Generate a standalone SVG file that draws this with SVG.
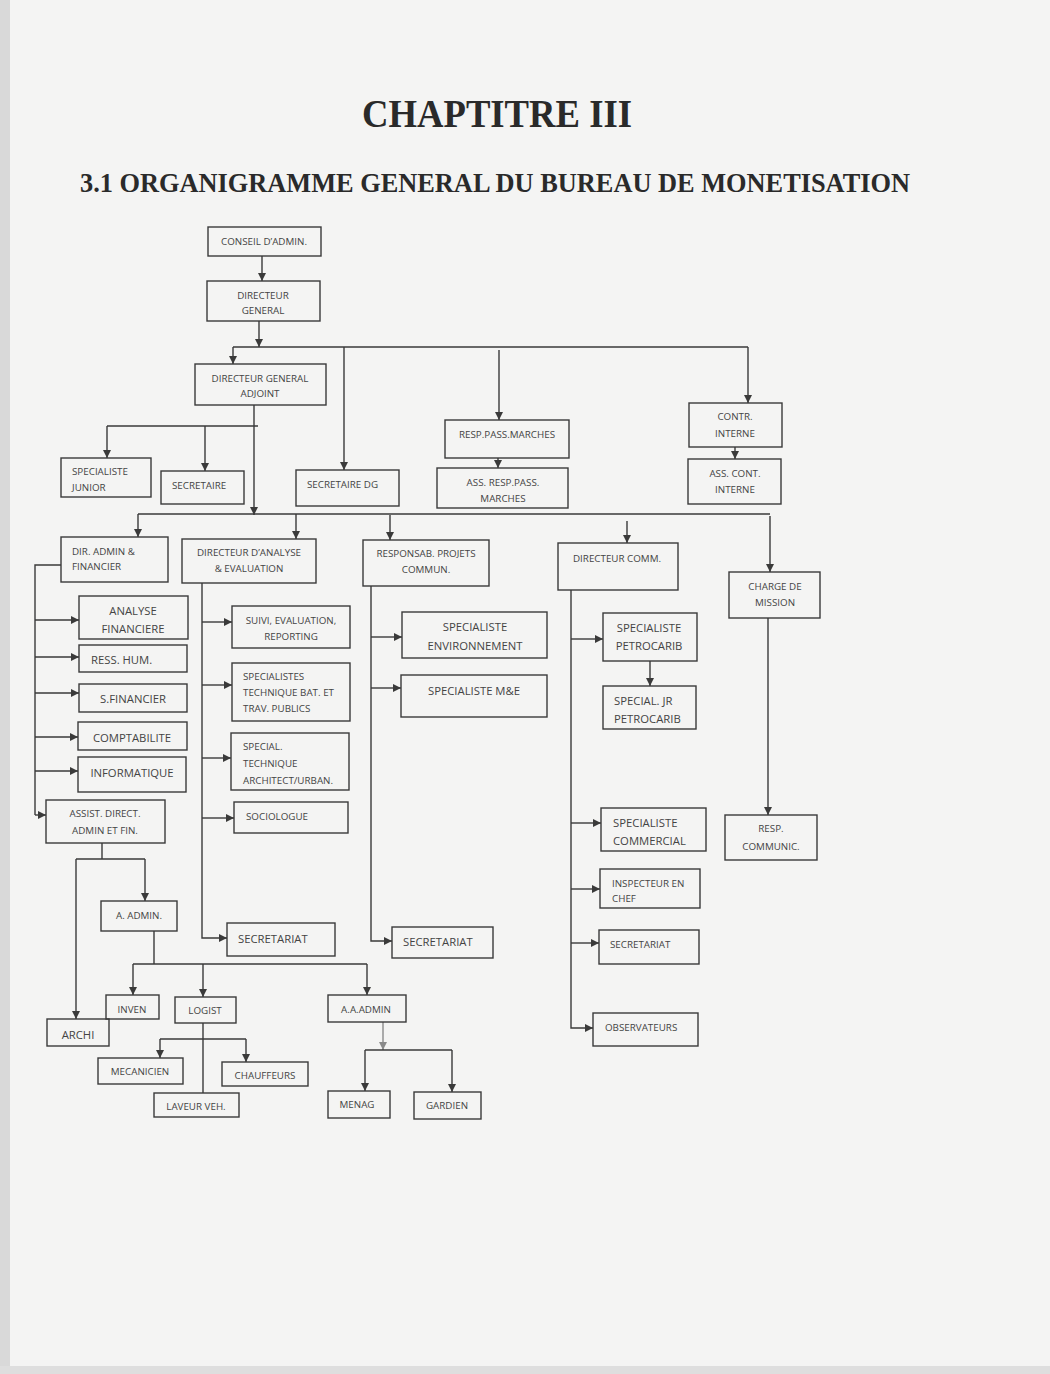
<svg xmlns="http://www.w3.org/2000/svg" width="1050" height="1374" viewBox="0 0 1050 1374">
<defs>
<marker id="ah" viewBox="0 0 10 10" refX="10" refY="5" markerWidth="8" markerHeight="8" markerUnits="userSpaceOnUse" orient="auto"><path d="M0,0 L10,5 L0,10 z" fill="#3a3a3a"/></marker>
<marker id="ahg" viewBox="0 0 10 10" refX="10" refY="5" markerWidth="8" markerHeight="8" markerUnits="userSpaceOnUse" orient="auto"><path d="M0,0 L10,5 L0,10 z" fill="#8a8a8a"/></marker>
<style>
.n rect{fill:none;stroke:#3a3a3a;stroke-width:1.4}
.n text{font-family:"Open Sans","Liberation Sans",sans-serif;font-size:9.8px;fill:#444;dominant-baseline:central}
.c{text-anchor:middle}
.l{text-anchor:start}
.b text{font-size:11.3px}
#connectors path{fill:none;stroke:#3a3a3a;stroke-width:1.4}
#connectors .a{marker-end:url(#ah)}
#connectors .g{stroke:#8a8a8a;marker-end:url(#ahg)}
.t{font-family:"Liberation Serif","Times New Roman",serif;font-weight:bold;fill:#2a2a2a}
</style>
</defs>
<rect x="0" y="0" width="1050" height="1374" fill="#f4f4f3"/>
<rect x="0" y="0" width="10" height="1374" fill="#d9d9d9"/>
<rect x="0" y="1366" width="1050" height="8" fill="#dedede"/>
<text class="t" x="497" y="127" font-size="40" text-anchor="middle" textLength="270" lengthAdjust="spacingAndGlyphs">CHAPTITRE III</text>
<text class="t" x="80" y="192" font-size="27" textLength="830" lengthAdjust="spacingAndGlyphs">3.1  ORGANIGRAMME GENERAL DU BUREAU DE MONETISATION</text>

<g id="connectors">
<path class="a" d="M262,256 V281"/>
<path class="a" d="M259,321 V347"/>
<path d="M233,347 H748"/>
<path class="a" d="M233,347 V364"/>
<path class="a" d="M344,347 V470"/>
<path class="a" d="M499,350 V420"/>
<path class="a" d="M748,347 V403"/>
<path class="a" d="M498,458 V468"/>
<path class="a" d="M735,447 V459"/>
<path class="a" d="M254,405 V515"/>
<path d="M107,426 H258"/>
<path class="a" d="M107,426 V458"/>
<path class="a" d="M205,426 V471"/>
<path d="M138,514 H770"/>
<path class="a" d="M138,514 V537"/>
<path class="a" d="M296,514 V539"/>
<path class="a" d="M390,515 V540"/>
<path class="a" d="M627,521 V543"/>
<path class="a" d="M770,516 V572"/>
<path d="M61,565 H35 V815"/>
<path class="a" d="M35,620 H79"/>
<path class="a" d="M35,657 H79"/>
<path class="a" d="M35,693 H79"/>
<path class="a" d="M35,737 H78"/>
<path class="a" d="M35,771 H78"/>
<path class="a" d="M35,815 H46"/>
<path class="a" d="M202,583 V938 H227"/>
<path class="a" d="M202,622 H232"/>
<path class="a" d="M202,685 H232"/>
<path class="a" d="M202,758 H231"/>
<path class="a" d="M202,818 H234"/>
<path class="a" d="M371,586 V941 H392"/>
<path class="a" d="M371,637 H402"/>
<path class="a" d="M371,688 H401"/>
<path class="a" d="M571,590 V1028 H593"/>
<path class="a" d="M571,639 H603"/>
<path class="a" d="M650,661 V686"/>
<path class="a" d="M571,823 H601"/>
<path class="a" d="M571,889 H600"/>
<path class="a" d="M571,943 H599"/>
<path class="a" d="M768,618 V815"/>
<path d="M102,843 V859"/>
<path d="M76,859 H145"/>
<path class="a" d="M145,859 V901"/>
<path class="a" d="M76,859 V1019"/>
<path d="M154,931 V964"/>
<path d="M133,964 H367"/>
<path class="a" d="M133,964 V995"/>
<path class="a" d="M203,964 V997"/>
<path class="a" d="M367,964 V995"/>
<path d="M203,1023 V1093"/>
<path d="M160,1039 H246"/>
<path class="a" d="M160,1039 V1058"/>
<path class="a" d="M246,1039 V1062"/>
<path class="g" d="M383,1022 V1050"/>
<path d="M365,1050 H452"/>
<path class="a" d="M365,1050 V1091"/>
<path class="a" d="M452,1050 V1092"/>
</g>

<g id="conseil" class="n"><rect x="208" y="227" width="113" height="29"/><text class="c" x="264" y="241">CONSEIL D’ADMIN.</text></g>
<g id="dg" class="n"><rect x="207" y="281" width="113" height="40"/><text class="c" x="263" y="295">DIRECTEUR</text><text class="c" x="263" y="310">GENERAL</text></g>
<g id="dga" class="n"><rect x="195" y="364" width="131" height="41"/><text class="c" x="260" y="378">DIRECTEUR GENERAL</text><text class="c" x="260" y="393">ADJOINT</text></g>
<g id="spec-junior" class="n"><rect x="61" y="458" width="90" height="39"/><text class="l" x="72" y="471">SPECIALISTE</text><text class="l" x="72" y="487">JUNIOR</text></g>
<g id="secretaire" class="n"><rect x="161" y="471" width="83" height="33"/><text class="l" x="172" y="485">SECRETAIRE</text></g>
<g id="secretaire-dg" class="n"><rect x="296" y="470" width="103" height="36"/><text class="l" x="307" y="484">SECRETAIRE DG</text></g>
<g id="resp-pass" class="n"><rect x="445" y="420" width="124" height="38"/><text class="c" x="507" y="434">RESP.PASS.MARCHES</text></g>
<g id="ass-resp-pass" class="n"><rect x="437" y="468" width="131" height="40"/><text class="c" x="503" y="482">ASS. RESP.PASS.</text><text class="c" x="503" y="498">MARCHES</text></g>
<g id="contr-interne" class="n"><rect x="689" y="403" width="93" height="44"/><text class="c" x="735" y="416">CONTR.</text><text class="c" x="735" y="433">INTERNE</text></g>
<g id="ass-cont-interne" class="n"><rect x="688" y="459" width="93" height="45"/><text class="c" x="735" y="473">ASS. CONT.</text><text class="c" x="735" y="489">INTERNE</text></g>

<g id="dir-admin" class="n"><rect x="61" y="537" width="107" height="45"/><text class="l" x="72" y="551">DIR. ADMIN &amp;</text><text class="l" x="72" y="566">FINANCIER</text></g>
<g id="dir-analyse" class="n"><rect x="182" y="539" width="134" height="44"/><text class="c" x="249" y="552">DIRECTEUR D’ANALYSE</text><text class="c" x="249" y="568">&amp; EVALUATION</text></g>
<g id="resp-projets" class="n"><rect x="363" y="540" width="126" height="46"/><text class="c" x="426" y="553">RESPONSAB. PROJETS</text><text class="c" x="426" y="569">COMMUN.</text></g>
<g id="dir-comm" class="n"><rect x="558" y="543" width="120" height="47"/><text class="l" x="573" y="558">DIRECTEUR COMM.</text></g>
<g id="charge-mission" class="n"><rect x="729" y="572" width="91" height="46"/><text class="c" x="775" y="586">CHARGE DE</text><text class="c" x="775" y="602">MISSION</text></g>

<g id="analyse-fin" class="n b"><rect x="79" y="596" width="109" height="43"/><text class="c" x="133" y="610">ANALYSE</text><text class="c" x="133" y="628">FINANCIERE</text></g>
<g id="ress-hum" class="n b"><rect x="79" y="645" width="108" height="27"/><text class="l" x="91" y="659">RESS. HUM.</text></g>
<g id="s-financier" class="n b"><rect x="79" y="684" width="108" height="28"/><text class="c" x="133" y="698">S.FINANCIER</text></g>
<g id="comptabilite" class="n b"><rect x="78" y="722" width="109" height="28"/><text class="c" x="132" y="737">COMPTABILITE</text></g>
<g id="informatique" class="n b"><rect x="78" y="757" width="108" height="35"/><text class="c" x="132" y="772">INFORMATIQUE</text></g>
<g id="assist-direct" class="n"><rect x="46" y="800" width="119" height="43"/><text class="c" x="105" y="813">ASSIST. DIRECT.</text><text class="c" x="105" y="830">ADMIN ET FIN.</text></g>

<g id="suivi" class="n"><rect x="232" y="606" width="118" height="42"/><text class="c" x="291" y="620">SUIVI, EVALUATION,</text><text class="c" x="291" y="636">REPORTING</text></g>
<g id="spec-tech-bat" class="n"><rect x="232" y="663" width="118" height="58"/><text class="l" x="243" y="676">SPECIALISTES</text><text class="l" x="243" y="692">TECHNIQUE BAT. ET</text><text class="l" x="243" y="708">TRAV. PUBLICS</text></g>
<g id="spec-tech-arch" class="n"><rect x="231" y="733" width="118" height="57"/><text class="l" x="243" y="746">SPECIAL.</text><text class="l" x="243" y="763">TECHNIQUE</text><text class="l" x="243" y="780">ARCHITECT/URBAN.</text></g>
<g id="sociologue" class="n"><rect x="234" y="802" width="114" height="31"/><text class="l" x="246" y="816">SOCIOLOGUE</text></g>
<g id="secretariat-1" class="n b"><rect x="227" y="923" width="108" height="33"/><text class="l" x="238" y="938">SECRETARIAT</text></g>

<g id="spec-env" class="n b"><rect x="402" y="612" width="145" height="46"/><text class="c" x="475" y="626">SPECIALISTE</text><text class="c" x="475" y="645">ENVIRONNEMENT</text></g>
<g id="spec-me" class="n b"><rect x="401" y="675" width="146" height="42"/><text class="c" x="474" y="690">SPECIALISTE M&amp;E</text></g>
<g id="secretariat-2" class="n b"><rect x="392" y="927" width="101" height="31"/><text class="l" x="403" y="941">SECRETARIAT</text></g>

<g id="spec-petrocarib" class="n b"><rect x="603" y="613" width="94" height="48"/><text class="c" x="649" y="627">SPECIALISTE</text><text class="c" x="649" y="645">PETROCARIB</text></g>
<g id="spec-jr-petrocarib" class="n b"><rect x="603" y="686" width="93" height="43"/><text class="l" x="614" y="700">SPECIAL. JR</text><text class="l" x="614" y="718">PETROCARIB</text></g>
<g id="spec-commercial" class="n b"><rect x="601" y="808" width="105" height="43"/><text class="l" x="613" y="822">SPECIALISTE</text><text class="l" x="613" y="840">COMMERCIAL</text></g>
<g id="inspecteur" class="n"><rect x="600" y="869" width="100" height="39"/><text class="l" x="612" y="883">INSPECTEUR EN</text><text class="l" x="612" y="898">CHEF</text></g>
<g id="secretariat-3" class="n"><rect x="599" y="930" width="100" height="34"/><text class="l" x="610" y="944">SECRETARIAT</text></g>
<g id="observateurs" class="n"><rect x="593" y="1013" width="105" height="33"/><text class="l" x="605" y="1027">OBSERVATEURS</text></g>
<g id="resp-communic" class="n"><rect x="725" y="815" width="92" height="45"/><text class="c" x="771" y="828">RESP.</text><text class="c" x="771" y="846">COMMUNIC.</text></g>

<g id="a-admin" class="n"><rect x="101" y="901" width="76" height="30"/><text class="c" x="139" y="915">A. ADMIN.</text></g>
<g id="inven" class="n"><rect x="106" y="995" width="53" height="24"/><text class="c" x="132" y="1009">INVEN</text></g>
<g id="archi" class="n b"><rect x="47" y="1019" width="62" height="27"/><text class="c" x="78" y="1034">ARCHI</text></g>
<g id="logist" class="n"><rect x="175" y="997" width="61" height="26"/><text class="c" x="205" y="1010">LOGIST</text></g>
<g id="aa-admin" class="n"><rect x="328" y="995" width="78" height="27"/><text class="c" x="366" y="1009">A.A.ADMIN</text></g>
<g id="mecanicien" class="n"><rect x="98" y="1058" width="85" height="26"/><text class="c" x="140" y="1071">MECANICIEN</text></g>
<g id="chauffeurs" class="n"><rect x="222" y="1062" width="86" height="24"/><text class="c" x="265" y="1075">CHAUFFEURS</text></g>
<g id="laveur" class="n"><rect x="154" y="1093" width="85" height="24"/><text class="c" x="196" y="1106">LAVEUR VEH.</text></g>
<g id="menag" class="n"><rect x="328" y="1091" width="62" height="27"/><text class="c" x="357" y="1104">MENAG</text></g>
<g id="gardien" class="n"><rect x="414" y="1092" width="67" height="27"/><text class="c" x="447" y="1105">GARDIEN</text></g>
</svg>
